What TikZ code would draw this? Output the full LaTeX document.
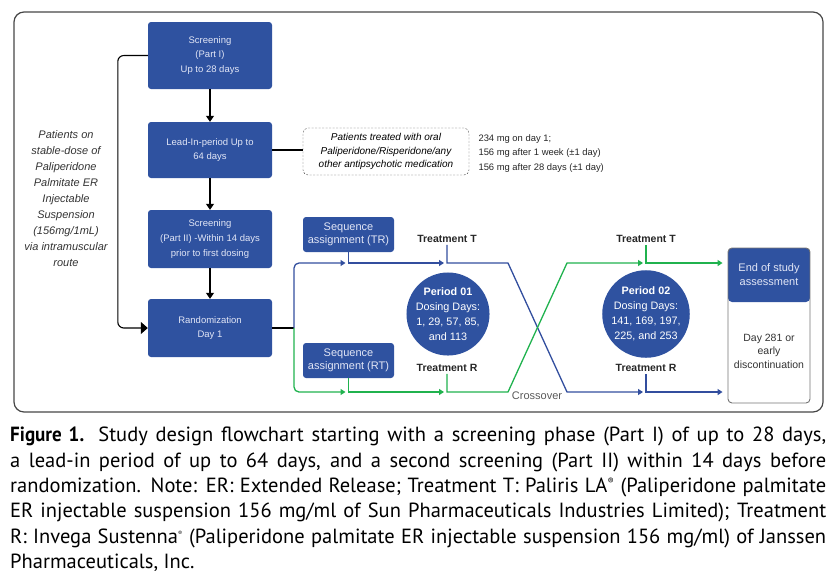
\documentclass[tikz,border=0pt]{standalone}
\usepackage{fontspec}
\setmainfont{Liberation Sans}
\newfontfamily\capfont[FakeStretch=1.0,BoldFeatures={FakeStretch=0.93}]{PT Sans}
\usetikzlibrary{arrows.meta,calc}
\usepackage{xcolor}
\definecolor{boxblue}{RGB}{47,82,160}
\definecolor{lineblue}{RGB}{50,78,158}
\definecolor{armgreen}{RGB}{32,178,78}
\definecolor{boxtext}{RGB}{226,230,246}
\definecolor{framegray}{RGB}{70,70,70}

\begin{document}
\begin{tikzpicture}[x=1pt,y=-1pt,
  phase/.style={fill=boxblue,text=boxtext,rounded corners=3pt,minimum width=124pt,
    align=center,font=\fontsize{9.5}{14.7}\selectfont},
  seqbox/.style={fill=boxblue,text=boxtext,rounded corners=3pt,minimum width=91pt,
    minimum height=35pt,align=center,inner sep=1pt,font=\fontsize{11}{13}\selectfont},
  period/.style={circle,fill=boxblue,text=white,minimum size=83pt,inner sep=0pt,
    align=center,font=\fontsize{10.8}{15}\selectfont},
  trt/.style={font=\bfseries\fontsize{10.5}{11}\selectfont,text=black!85,inner sep=2pt},
  blk/.style={black,line width=1.1pt},
  down/.style={blk,-{Triangle[width=8pt,length=6pt]}},
  bluel/.style={lineblue,line width=1.3pt},
  greenl/.style={armgreen,line width=1.3pt},
  tip/.style={-{Triangle[width=6pt,length=5pt]},shorten >=3pt}]
	\useasboundingbox (0,0) rectangle (834,579);

	% Outer frame.
	\draw[framegray,line width=1.2pt,rounded corners=10pt] (14,12) rectangle (823,412);

	% Screening and lead-in column.
	\node[phase,minimum height=67pt] (scr1) at (210,55.5) {Screening\\(Part I)\\Up to 28 days};
	\node[phase,minimum height=56pt] (lead) at (210,150) {Lead-In-period Up to\\64 days};
	\node[phase,minimum height=58pt] (scr2) at (210,239) {Screening\\(Part II) -Within 14 days\\prior to first dosing};
	\node[phase,minimum height=58pt] (rand) at (210,328) {Randomization\\Day 1};
	\draw[down] (scr1) -- (lead);
	\draw[down] (lead) -- (scr2);
	\draw[down] (scr2) -- (rand);
	\draw[blk,rounded corners=6pt,-{Triangle[width=12pt,length=7pt]}] (scr1.west) -- ++(-30,0) |- (rand.west);

	\node[align=center,font=\itshape\fontsize{11}{16}\selectfont,text=black!80] (stable) at (66,199)
	  {Patients on\\stable-dose of\\Paliperidone\\Palmitate ER\\Injectable\\Suspension\\(156mg/1mL)\\via intramuscular\\route};

	% Oral pre-treatment and loading doses.
	\node[draw=black!70,dash pattern=on 2pt off 1.5pt,rounded corners=5pt,minimum width=166pt,minimum height=47pt,
	  align=center,font=\itshape\fontsize{10}{13.5}\selectfont] (oral) at (386,151.5)
	  {Patients treated with oral\\Paliperidone/Risperidone/any\\other antipsychotic medication};
	\draw[blk] (lead.east) -- (lead.east -| oral.west);
	\node[anchor=west,align=left,font=\fontsize{9.4}{14.5}\selectfont,text=black!85] (dose) at (475,153.5)
	  {234 mg on day 1;\\156 mg after 1 week (\textpm1 day)\\156 mg after 28 days (\textpm1 day)};

	% Sequences, periods and treatments.
	\node[seqbox] (seqTR) at (348.5,234.5) {Sequence\\assignment (TR)};
	\node[seqbox] (seqRT) at (348.5,360.5) {Sequence\\assignment (RT)};
	\node[trt] (tT1) at (447,239) {Treatment T};
	\node[trt] (tR1) at (447,368) {Treatment R};
	\node[trt] (tT2) at (646,239) {Treatment T};
	\node[trt] (tR2) at (646,368) {Treatment R};
	\node[period] (p1) at (448,314) {\textbf{Period 01}\\Dosing Days:\\1, 29, 57, 85,\\and 113};
	\node[period] (p2) at (646,314) {\textbf{Period 02}\\Dosing Days:\\141, 169, 197,\\225, and 253};
	\node[font=\fontsize{11}{12}\selectfont,text=black!65] (xover) at (537,396) {Crossover};

	% End of study box.
	\node[draw=black!55,line width=0.9pt,rounded corners=4pt,minimum width=82pt,minimum height=155pt,
	  path picture={\fill[boxblue] (path picture bounding box.north west) rectangle ([yshift=-54pt]path picture bounding box.north east);}] (endbox) at (769,325.5) {};
	\node[align=center,text=boxtext,font=\fontsize{11}{14}\selectfont] (endttl) at (769,275) {End of study\\assessment};
	\node[align=center,text=black!80,font=\fontsize{10.5}{13.5}\selectfont] (endday) at (769,351) {Day 281 or\\early\\discontinuation};

	\coordinate (split) at (294,328);
	\coordinate (rowT) at (0,263);
	\coordinate (rowR) at (0,392);
	\coordinate (xa) at (508,263);
	\coordinate (xb) at (567,392);
	\coordinate (xc) at (508,392);
	\coordinate (xd) at (567,263);

	% Arms.
	\draw[blk] (rand.east) -- (split);
	\draw[bluel,tip,rounded corners=5pt] (split) |- (seqTR.south |- rowT);
	\draw[bluel,tip] (seqTR.south) |- (tT1.south |- rowT);
	\draw[bluel,tip] (tT1.south) |- (xa) -- (xb) -- (tR2.south |- rowR);
	\draw[bluel,tip,shorten >=5pt] (tR2.south) |- (endbox.west |- rowR);

	\draw[greenl,tip,rounded corners=5pt] (split) |- (seqRT.south |- rowR);
	\draw[greenl,tip] (seqRT.south) |- (tR1.south |- rowR);
	\draw[greenl,tip] (tR1.south) |- (xc) -- (xd) -- (tT2.south |- rowT);
	\draw[greenl,tip,shorten >=5pt] (tT2.south) |- (endbox.west |- rowT);

	% Caption.
	\node[anchor=north west,inner sep=0pt,text width=816pt,align=justify,
	  font=\capfont\fontsize{20.5}{25.3}\selectfont] (caption) at (10,427)
	  {\textbf{Figure 1.} Study design flowchart starting with a screening phase (Part I) of up to 28 days,\linebreak
	   a lead-in period of up to 64 days, and a second screening (Part II) within 14 days before\linebreak
	   randomization. Note: ER: Extended Release; Treatment T: Paliris LA\textsuperscript{\fontsize{9}{9}\selectfont ®} (Paliperidone palmitate\linebreak
	   ER injectable suspension 156 mg/ml of Sun Pharmaceuticals Industries Limited); Treatment\linebreak
	   R: Invega Sustenna\textsuperscript{\fontsize{6}{6}\selectfont ®} (Paliperidone palmitate ER injectable suspension 156 mg/ml) of Janssen\linebreak
	   Pharmaceuticals, Inc.};
\end{tikzpicture}
\end{document}
